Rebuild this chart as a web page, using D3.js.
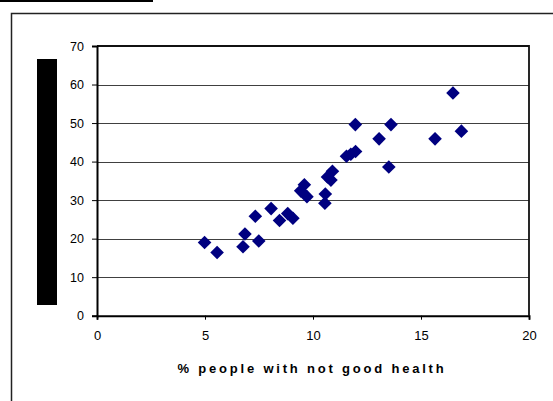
<!DOCTYPE html>
<html><head><meta charset="utf-8">
<script src="https://cdn.jsdelivr.net/npm/d3@7"></script>
<style>body{margin:0;background:#fff}svg{display:block}</style>
</head><body>
<script>
const xValues = [4.98,5.56,6.76,6.85,7.49,7.33,8.06,8.45,8.83,9.07,9.6,9.43,9.72,10.57,10.55,10.9,10.67,10.83,11.55,11.97,11.75,11.96,13.06,13.61,13.51,15.65,16.48,16.87];
const yValues = [19.0,16.4,17.9,21.2,19.4,25.8,27.8,24.7,26.5,25.3,34.0,32.4,30.9,31.6,29.2,37.5,36.0,35.2,41.4,42.6,41.9,49.6,45.9,49.6,38.6,45.9,57.8,47.9];
const xTicks = [0,5,10,15,20];
const yTicks = [0,10,20,30,40,50,60,70];
const xTitle = "% people with not good health";

const W=553,H=401;
const svg=d3.select("body").append("svg").attr("width",W).attr("height",H);
const L=97,R=529,T=46,B=315.7;
const x=d3.scaleLinear().domain([0,20]).range([L,R]);
const y=d3.scaleLinear().domain([0,70]).range([B,T]);

// outer frames
svg.append("line").attr("x1",0).attr("x2",153).attr("y1",1).attr("y2",1).attr("stroke","#000").attr("stroke-width",2);
svg.append("path").attr("d",`M11.5,${H}V13.5H${W}`).attr("fill","none").attr("stroke","#222").attr("stroke-width",1.5);

// y-title box (black)
svg.append("rect").attr("x",37).attr("y",59).attr("width",20).attr("height",246).attr("fill","#000");

// gridlines
svg.append("g").selectAll("line").data(yTicks.filter(d=>d>0&&d<70)).join("line")
  .attr("x1",L).attr("x2",R).attr("y1",d=>Math.round(y(d))+0.5).attr("y2",d=>Math.round(y(d))+0.5)
  .attr("stroke","#404040").attr("stroke-width",1);

// plot border top/right
svg.append("path").attr("d",`M${L},${T}H${R}V${B}`).attr("fill","none").attr("stroke","#111").attr("stroke-width",1.8);

const font="Liberation Sans, Arial, sans-serif";
// y axis
const ya=svg.append("g").attr("transform",`translate(${L},0)`)
  .call(d3.axisLeft(y).tickValues(yTicks).tickSize(5).tickPadding(8));
ya.select(".domain").attr("stroke","#000").attr("stroke-width",2);
ya.selectAll("text").attr("font-family",font).attr("font-size",12.5).attr("fill","#000");
ya.selectAll(".tick line").attr("stroke","#000");
// x axis
const xa=svg.append("g").attr("transform",`translate(0,${B})`)
  .call(d3.axisBottom(x).tickValues(xTicks).tickSize(4).tickPadding(11));
xa.select(".domain").attr("stroke","#000").attr("stroke-width",2);
xa.selectAll("text").attr("font-family",font).attr("font-size",13).attr("fill","#000");
xa.selectAll(".tick line").attr("stroke","#000");

svg.append("text").attr("x",312).attr("y",373).attr("text-anchor","middle")
  .attr("font-family",font).attr("font-size",13).attr("font-weight","bold")
  .attr("letter-spacing","2.8px").attr("fill","#000").text(xTitle);

// points
const pts=xValues.map((v,i)=>[v,yValues[i]]);
const s=6.8;
svg.append("g").selectAll("path").data(pts).join("path")
  .attr("d",d=>{const cx=x(d[0]),cy=y(d[1]);return `M${cx},${cy-s}L${cx+s},${cy}L${cx},${cy+s}L${cx-s},${cy}Z`;})
  .attr("fill","#000080");
</script>
</body></html>
